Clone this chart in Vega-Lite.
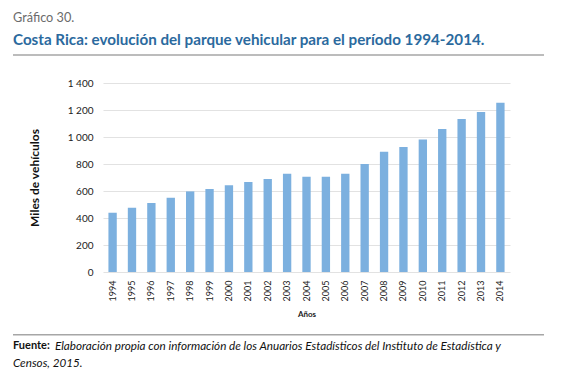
{
  "$schema": "https://vega.github.io/schema/vega-lite/v6.json",
  "background": "white",
  "padding": {"left": 12, "top": 12, "right": 5, "bottom": 5},
  "bounds": "flush",
  "spacing": 28,
  "vconcat": [
    {
      "width": 441,
      "height": 1,
      "data": {"values": [{"part": "header"}]},
      "title": {
        "text": "Gráfico 30.",
        "subtitle": "Costa Rica: evolución del parque vehicular para el período 1994-2014.",
        "anchor": "start",
        "frame": "group",
        "dx": -90,
        "offset": 6,
        "font": "Lato",
        "fontSize": 12.7,
        "fontWeight": "normal",
        "color": "#6b6b6b",
        "subtitleFont": "Lato",
        "subtitleFontSize": 15.2,
        "subtitleFontWeight": "bold",
        "subtitleColor": "#2b6a9e",
        "subtitlePadding": 8
      },
      "mark": {"type": "rule", "xOffset": -90, "color": "#a6a6a6", "strokeWidth": 1.5},
      "encoding": {
        "x": {"datum": 0, "scale": {"domain": [0, 1], "nice": false, "zero": false}, "axis": null},
        "x2": {"datum": 1},
        "y": {"datum": 0, "scale": {"domain": [0, 1]}, "axis": null}
      }
    },
    {
      "width": 407,
      "height": 189,
      "data": {
        "values": [
          {"year": "1994", "vehicles": 439},
          {"year": "1995", "vehicles": 476},
          {"year": "1996", "vehicles": 511},
          {"year": "1997", "vehicles": 550},
          {"year": "1998", "vehicles": 597},
          {"year": "1999", "vehicles": 615},
          {"year": "2000", "vehicles": 642},
          {"year": "2001", "vehicles": 667},
          {"year": "2002", "vehicles": 689},
          {"year": "2003", "vehicles": 728},
          {"year": "2004", "vehicles": 706},
          {"year": "2005", "vehicles": 706},
          {"year": "2006", "vehicles": 728},
          {"year": "2007", "vehicles": 800},
          {"year": "2008", "vehicles": 891},
          {"year": "2009", "vehicles": 926},
          {"year": "2010", "vehicles": 982},
          {"year": "2011", "vehicles": 1059},
          {"year": "2012", "vehicles": 1133},
          {"year": "2013", "vehicles": 1185},
          {"year": "2014", "vehicles": 1254}
        ]
      },
      "mark": {"type": "bar", "color": "#7cb0df"},
      "encoding": {
        "x": {
          "field": "year",
          "type": "ordinal",
          "scale": {"paddingInner": 0.57, "paddingOuter": 0.28},
          "axis": {
            "title": "Años",
            "labelAngle": -90,
            "labelFont": "Lato",
            "labelFontSize": 9,
            "labelColor": "#222222",
            "labelPadding": 8,
            "ticks": false,
            "domain": false,
            "titleFont": "Lato",
            "titleFontSize": 8,
            "titleFontWeight": "bold",
            "titleColor": "#222222",
            "titlePadding": 10
          }
        },
        "y": {
          "field": "vehicles",
          "type": "quantitative",
          "scale": {"domain": [0, 1400]},
          "axis": {
            "values": [0, 200, 400, 600, 800, 1000, 1200, 1400],
            "labelExpr": "replace(format(datum.value, ','), ',', ' ')",
            "title": "Miles de vehículos",
            "labelFont": "Lato",
            "labelFontSize": 10,
            "labelColor": "#222222",
            "labelPadding": 10,
            "ticks": false,
            "domain": false,
            "grid": true,
            "gridColor": "#e2e2e2",
            "gridWidth": 1.2,
            "titleFont": "Lato",
            "titleFontSize": 12,
            "titleFontWeight": "bold",
            "titleColor": "#111111",
            "titlePadding": 26
          }
        }
      }
    },
    {
      "width": 441,
      "height": 34.7,
      "data": {"values": [{"part": "footer"}]},
      "layer": [
        {
          "mark": {"type": "rule", "xOffset": -90, "color": "#a6a6a6", "strokeWidth": 1.5},
          "encoding": {
            "x": {"datum": 0, "scale": {"domain": [0, 1], "nice": false, "zero": false}, "axis": null},
            "x2": {"datum": 1},
            "y": {"datum": 0, "scale": {"domain": [0, 1]}, "axis": null}
          }
        },
        {
          "mark": {"type": "text", "text": "Fuente:", "align": "left", "baseline": "middle", "dx": -90, "dy": 11, "font": "Lato", "fontSize": 11, "fontWeight": "bold", "color": "#111111"},
          "encoding": {
            "x": {"datum": 0, "axis": null},
            "y": {"datum": 0, "axis": null}
          }
        },
        {
          "mark": {"type": "text", "text": "Elaboración propia con información de los Anuarios Estadísticos del Instituto de Estadística y", "align": "left", "baseline": "middle", "dx": -48, "dy": 11, "font": "Lato", "fontSize": 11.7, "fontStyle": "italic", "color": "#111111"},
          "encoding": {
            "x": {"datum": 0, "axis": null},
            "y": {"datum": 0, "axis": null}
          }
        },
        {
          "mark": {"type": "text", "text": "Censos, 2015.", "align": "left", "baseline": "middle", "dx": -90, "dy": 28, "font": "Lato", "fontSize": 11.7, "fontStyle": "italic", "color": "#111111"},
          "encoding": {
            "x": {"datum": 0, "axis": null},
            "y": {"datum": 0, "axis": null}
          }
        }
      ]
    }
  ],
  "config": {
    "view": {"stroke": null}
  }
}
